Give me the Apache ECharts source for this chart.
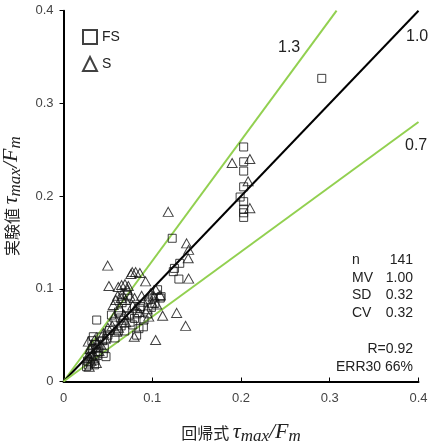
<!DOCTYPE html>
<html>
<head>
<meta charset="utf-8">
<script src="https://cdn.jsdelivr.net/npm/echarts@6/dist/echarts.min.js"></script>
<style>
  html, body { margin: 0; padding: 0; background: #fff; }
  #main { width: 429px; height: 447px; }
</style>
</head>
<body>
<div id="main"></div>
<script>
// FS 供試体 [回帰式, 実験値]
var fsData = [
  [0.291, 0.327],
  [0.203, 0.253], [0.203, 0.237], [0.203, 0.227], [0.203, 0.210], [0.199, 0.199],
  [0.203, 0.194], [0.203, 0.186], [0.203, 0.182], [0.203, 0.177],
  [0.1225, 0.1545], [0.131, 0.1275], [0.1237, 0.1185], [0.130, 0.1105], [0.125, 0.122],
  [0.110, 0.0915], [0.106, 0.099], [0.109, 0.090], [0.103, 0.0843], [0.0955, 0.088], [0.099, 0.080],
  [0.086, 0.079], [0.0907, 0.0663], [0.090, 0.059], [0.0824, 0.050], [0.078, 0.061], [0.080, 0.068], [0.083, 0.073],
  [0.071, 0.079], [0.072, 0.093], [0.069, 0.0545], [0.0617, 0.0545], [0.065, 0.060], [0.068, 0.066],
  [0.074, 0.071], [0.058, 0.065], [0.054, 0.0717], [0.062, 0.075], [0.066, 0.085],
  [0.0374, 0.0663],
  [0.0486, 0.0466], [0.041, 0.048], [0.0336, 0.0483], [0.044, 0.044], [0.050, 0.050], [0.052, 0.055],
  [0.0448, 0.0304], [0.0479, 0.0268], [0.039, 0.032], [0.0355, 0.023], [0.0317, 0.0268], [0.028, 0.0178],
  [0.026, 0.016], [0.030, 0.020], [0.033, 0.035], [0.036, 0.040], [0.030, 0.030], [0.038, 0.028],
  [0.032, 0.044], [0.027, 0.022], [0.035, 0.018], [0.040, 0.037],
  [0.058, 0.047], [0.075, 0.064], [0.095, 0.073], [0.100, 0.090], [0.064, 0.0685], [0.087, 0.081],
  [0.085, 0.057], [0.046, 0.036]
];

// S 供試体
var sData = [
  [0.190, 0.2357], [0.210, 0.240], [0.208, 0.216], [0.210, 0.187],
  [0.118, 0.183], [0.1387, 0.149], [0.141, 0.142], [0.1405, 0.133], [0.141, 0.111],
  [0.1275, 0.074], [0.1376, 0.060], [0.1117, 0.071], [0.1087, 0.0933], [0.104, 0.099], [0.1038, 0.0448],
  [0.0498, 0.125], [0.0512, 0.103],
  [0.0775, 0.118], [0.0813, 0.118], [0.086, 0.117], [0.076, 0.116], [0.0925, 0.108],
  [0.0617, 0.102], [0.0655, 0.104], [0.0693, 0.105], [0.073, 0.103], [0.061, 0.0925], [0.066, 0.095],
  [0.056, 0.0825], [0.059, 0.088], [0.088, 0.0925], [0.063, 0.080], [0.070, 0.088], [0.075, 0.092],
  [0.080, 0.090], [0.098, 0.095], [0.100, 0.085], [0.094, 0.078], [0.105, 0.083], [0.085, 0.075],
  [0.078, 0.082], [0.068, 0.072],
  [0.0797, 0.0483], [0.060, 0.0537], [0.055, 0.060], [0.050, 0.058], [0.045, 0.052],
  [0.028, 0.043], [0.032, 0.040], [0.035, 0.045], [0.038, 0.042], [0.030, 0.035], [0.034, 0.030],
  [0.036, 0.036], [0.033, 0.025], [0.028, 0.028], [0.040, 0.033], [0.031, 0.022], [0.029, 0.016],
  [0.037, 0.020], [0.042, 0.040],
  [0.057, 0.070], [0.065, 0.090], [0.072, 0.099], [0.090, 0.086], [0.096, 0.070], [0.102, 0.092],
  [0.062, 0.058], [0.047, 0.046], [0.081, 0.079], [0.070, 0.064]
];

// 比率線 (実験値/回帰式)
var ratios = [1.3, 1.0, 0.7];
var ratioLabels = ['1.3', '1.0', '0.7'];
var axisTicks = [0, 0.1, 0.2, 0.3, 0.4];

// 統計量
var statNames = ['n', 'MV', 'SD', 'CV'];
var statValues = ['141', '1.00', '0.32', '0.32'];
var extraStats = ['R=0.92', 'ERR30 66%'];

var AXMAX = axisTicks[axisTicks.length - 1];
var GREEN = '#92d050';
var FONT = '"Liberation Sans", Arial, sans-serif';

function ratioLine(r) {
  var x1 = Math.min(AXMAX, AXMAX / r);
  return [[0, 0], [x1, x1 * r]];
}

var nameRich = {
  jp: { fontFamily: '"Noto Sans CJK JP"', fontSize: 16, color: '#222' },
  m: { fontFamily: '"Liberation Serif", "DejaVu Serif", serif', fontStyle: 'italic', fontSize: 22, color: '#222' },
  s: { fontFamily: '"Liberation Serif", "DejaVu Serif", serif', fontStyle: 'italic', fontSize: 17, color: '#222', padding: [9, 0, 0, 0] }
};
var axisName = '{jp|$JP }{m|τ}{s|max}{m|/F}{s|m}';

var myChart = echarts.init(document.getElementById('main'));

var graphics = [];
var labelPos = [[290, 49], [418, 38], [417, 147]];
ratioLabels.forEach(function (t, i) {
  graphics.push({
    type: 'text', left: labelPos[i][0] - 12, top: labelPos[i][1] - 9,
    style: { text: t, font: '16px ' + FONT, fill: '#222' }
  });
});
statNames.forEach(function (t, i) {
  graphics.push({
    type: 'text', x: 352, y: 260 + i * 17.7,
    style: { text: t, font: '14px ' + FONT, fill: '#222', textAlign: 'left', textVerticalAlign: 'middle' }
  });
  graphics.push({
    type: 'text', x: 413, y: 260 + i * 17.7,
    style: { text: statValues[i], font: '14px ' + FONT, fill: '#222', textAlign: 'right', textVerticalAlign: 'middle' }
  });
});
extraStats.forEach(function (t, i) {
  graphics.push({
    type: 'text', x: 413, y: 349 + i * 18,
    style: { text: t, font: '14px ' + FONT, fill: '#222', textAlign: 'right', textVerticalAlign: 'middle' }
  });
});

myChart.setOption({
  animation: false,
  grid: { left: 63.5, right: 10.5, top: 10.7, bottom: 65.5, containLabel: false, outerBoundsMode: 'none' },
  legend: {
    left: 77, top: 24, orient: 'vertical', itemGap: 11,
    itemWidth: 14, itemHeight: 14,
    textStyle: { fontFamily: FONT, fontSize: 14, color: '#222' },
    data: ['FS', 'S']
  },
  xAxis: {
    type: 'value', min: 0, max: AXMAX, interval: 0.1,
    name: axisName.replace('$JP', '回帰式'), nameLocation: 'middle', nameGap: 38,
    nameTextStyle: { rich: nameRich },
    splitLine: { show: false },
    axisLine: { lineStyle: { color: '#000', width: 2 } },
    axisTick: { inside: true, length: 4, lineStyle: { color: '#000' } },
    axisLabel: { fontFamily: FONT, fontSize: 13, color: '#444', margin: 10 }
  },
  yAxis: {
    type: 'value', min: 0, max: AXMAX, interval: 0.1,
    name: axisName.replace('$JP', '実験値'), nameLocation: 'middle', nameGap: 34,
    nameTextStyle: { rich: nameRich },
    splitLine: { show: false },
    axisLine: { lineStyle: { color: '#000', width: 2 } },
    axisTick: { length: 4, lineStyle: { color: '#000' } },
    axisLabel: { fontFamily: FONT, fontSize: 13, color: '#444', margin: 10 }
  },
  graphic: graphics,
  series: ratios.map(function (r) {
    return {
      type: 'line', data: ratioLine(r), symbol: 'none', silent: true,
      lineStyle: { color: r === 1 ? '#000' : GREEN, width: 2 }, z: 1
    };
  }).concat([
    {
      name: 'FS', type: 'scatter', data: fsData, symbol: 'rect', symbolSize: 8, z: 3,
      itemStyle: { color: 'rgba(0,0,0,0)', borderColor: '#111', borderWidth: 1 }
    },
    {
      name: 'S', type: 'scatter', data: sData, symbol: 'triangle', symbolSize: [10, 9], z: 3,
      itemStyle: { color: 'rgba(0,0,0,0)', borderColor: '#111', borderWidth: 1 }
    }
  ])
});
</script>
</body>
</html>
